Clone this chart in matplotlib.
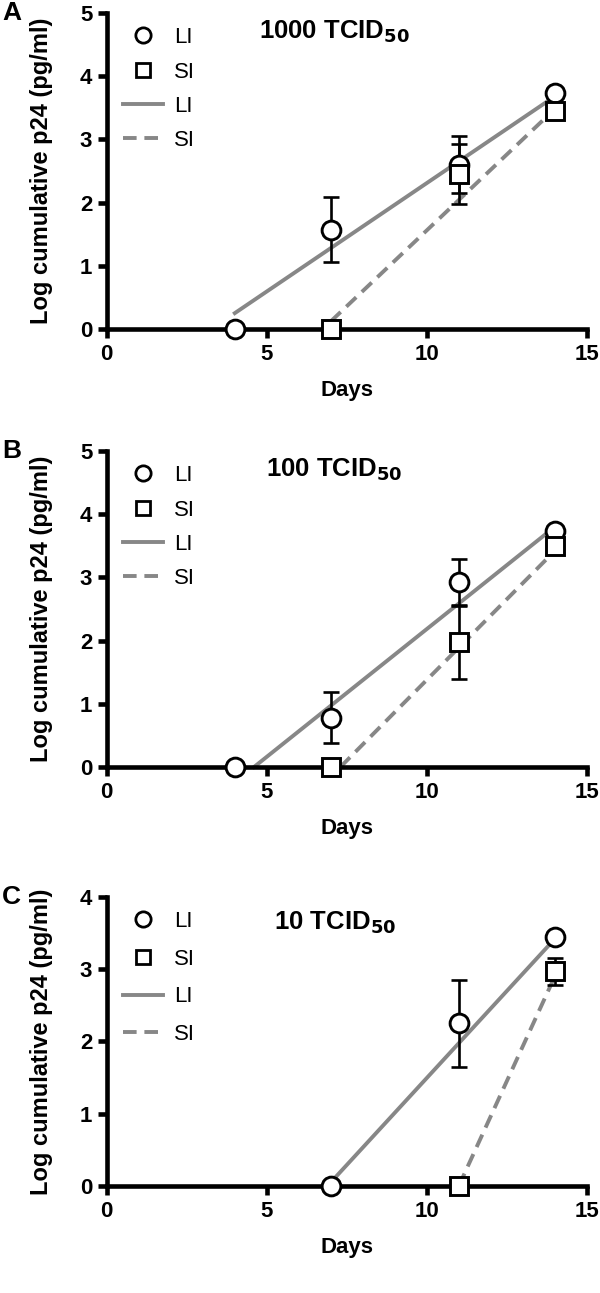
import numpy as np
import matplotlib
matplotlib.use("Agg")
import matplotlib.pyplot as plt
from matplotlib.lines import Line2D

plt.rcParams['font.family'] = ['Liberation Sans', 'DejaVu Sans']

# panel A: 1000 TCID50
a_li_days = [4, 7, 11, 14]
a_li_vals = [0, 1.57, 2.6, 3.73]
a_li_err = [0, 0.51, 0.45, 0]
a_si_days = [7, 11, 14]
a_si_vals = [0, 2.45, 3.45]
a_si_err = [0, 0.48, 0]
a_li_fit_x = [4, 14]
a_li_fit_y = [0.25, 3.68]
a_si_fit_x = [7, 14]
a_si_fit_y = [0.12, 3.48]

# panel B: 100 TCID50
b_li_days = [4, 7, 11, 14]
b_li_vals = [0, 0.78, 2.92, 3.73]
b_li_err = [0, 0.4, 0.37, 0]
b_si_days = [7, 11, 14]
b_si_vals = [0, 1.98, 3.5]
b_si_err = [0, 0.58, 0]
b_li_fit_x = [4.6, 14]
b_li_fit_y = [0, 3.8]
b_si_fit_x = [7.3, 14]
b_si_fit_y = [0, 3.42]

# panel C: 10 TCID50
c_li_days = [7, 11, 14]
c_li_vals = [0, 2.25, 3.45]
c_li_err = [0, 0.6, 0]
c_si_days = [11, 14]
c_si_vals = [0, 2.97]
c_si_err = [0, 0.19]
c_li_fit_x = [7, 14]
c_li_fit_y = [0.05, 3.42]
c_si_fit_x = [11, 14]
c_si_fit_y = [0, 2.9]

panels = [
    ('A', '1000', 5, a_li_days, a_li_vals, a_li_err, a_si_days, a_si_vals, a_si_err,
     a_li_fit_x, a_li_fit_y, a_si_fit_x, a_si_fit_y),
    ('B', '100', 5, b_li_days, b_li_vals, b_li_err, b_si_days, b_si_vals, b_si_err,
     b_li_fit_x, b_li_fit_y, b_si_fit_x, b_si_fit_y),
    ('C', '10', 4, c_li_days, c_li_vals, c_li_err, c_si_days, c_si_vals, c_si_err,
     c_li_fit_x, c_li_fit_y, c_si_fit_x, c_si_fit_y),
]

# axes boxes in figure fractions (left, bottom, width, height)
boxes = [
    [0.178, 0.7456, 0.80, 0.2444],
    [0.178, 0.4068, 0.80, 0.2444],
    [0.178, 0.0828, 0.80, 0.2235],
]

fig = plt.figure(figsize=(6, 12.93), dpi=100)
grey = '#878787'
dash = (0, (3.5, 2))

for box, p in zip(boxes, panels):
    (letter, dose, ymax, li_d, li_v, li_e, si_d, si_v, si_e,
     lfx, lfy, sfx, sfy) = p
    ax = fig.add_axes(box)

    ax.plot(lfx, lfy, color=grey, lw=2.8, zorder=2, clip_on=False)
    ax.plot(sfx, sfy, color=grey, lw=2.8, ls=dash, zorder=2, clip_on=False)

    for d, v, e, m in [(li_d, li_v, li_e, 'o'), (si_d, si_v, si_e, 's')]:
        eb = ax.errorbar(d, v, yerr=e, fmt='none', ecolor='black', elinewidth=1.9,
                         capsize=6, capthick=1.9, zorder=3)
        for art in eb.get_children():
            art.set_clip_on(False)
        ax.plot(d, v, ls='none', marker=m, ms=13.5 if m == 'o' else 13,
                mfc='white', mec='black', mew=2.1, zorder=5, clip_on=False)

    ax.set_xlim(0, 15)
    ax.set_ylim(0, ymax)
    ax.set_xticks([0, 5, 10, 15])
    ax.set_yticks(range(ymax + 1))
    for s in ['top', 'right']:
        ax.spines[s].set_visible(False)
    for s in ['left', 'bottom']:
        ax.spines[s].set_linewidth(3.3)
    ax.tick_params(direction='out', length=6.5, width=3.3, labelsize=16, pad=4)
    for lab in ax.get_xticklabels() + ax.get_yticklabels():
        lab.set_fontweight('bold')

    ax.set_xlabel('Days', fontsize=16, fontweight='bold', labelpad=11)
    ax.set_ylabel('Log cumulative p24 (pg/ml)', fontsize=17, fontweight='bold')
    ax.yaxis.set_label_coords(-0.113, 0.5)

    ax.text(0.475, 0.94 if ymax == 5 else 0.91, dose + r' TCID$_{\mathbf{50}}$',
            transform=ax.transAxes, ha='center', va='center',
            fontsize=18.5, fontweight='bold')
    ax.text(-0.218, 1.0, letter, transform=ax.transAxes, ha='left', va='center',
            fontsize=19, fontweight='bold')

    handles = [
        Line2D([], [], ls='none', marker='o', ms=11, mfc='white', mec='black', mew=2),
        Line2D([], [], ls='none', marker='s', ms=10.5, mfc='white', mec='black', mew=2),
        Line2D([], [], color=grey, lw=2.8),
        Line2D([], [], color=grey, lw=2.8, ls=dash),
    ]
    ax.legend(handles, ['LI', 'SI', 'LI', 'SI'], loc='upper left',
              bbox_to_anchor=(0.01, 0.99), frameon=False, fontsize=16,
              handlelength=1.8, handletextpad=0.5,
              labelspacing=0.6 if ymax == 5 else 0.75, borderaxespad=0.1)

fig.savefig('out.png', dpi=100)
